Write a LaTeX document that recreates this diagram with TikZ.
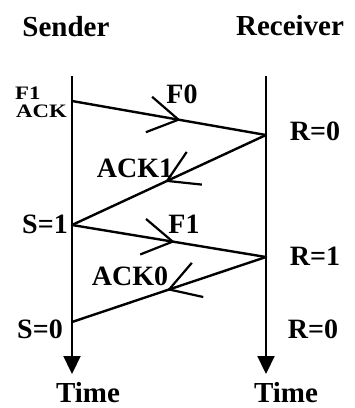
\documentclass[tikz,border=0pt]{standalone}
\usepackage{fontspec}
\setmainfont{Liberation Serif}
\usetikzlibrary{arrows.meta,decorations.markings}
\tikzset{
  big/.style={font=\fontsize{29}{31}\selectfont\bfseries, inner sep=0pt, anchor=base},
  lab/.style={font=\fontsize{28}{30}\selectfont\bfseries, inner sep=0pt, anchor=base},
  tiny/.style={font=\fontsize{19}{21}\selectfont\bfseries, inner sep=0pt, anchor=base west, xscale=1.2},
  timeline/.style={line width=2.2pt, -{Triangle[length=18pt,width=17pt]}},
  msg/.style={line width=2.4pt, line cap=round,
    postaction={decorate},
    decoration={markings, mark=at position #1 with {\arrow[line width=2.2pt]{Straight Barb[length=30pt,width=36pt]}}}},
  msg/.default=0.55
}
\begin{document}
\begin{tikzpicture}[x=1pt,y=-1pt]
\useasboundingbox (0,0) rectangle (355,408);
% timelines
\coordinate (stop) at (72,76);
\coordinate (send) at (72,374);
\coordinate (rtop) at (266,76);
\coordinate (rend) at (266,374);
\draw[timeline] (stop) -- (send);
\draw[timeline] (rtop) -- (rend);
% events
\coordinate (s0) at (72,101);
\coordinate (r0) at (266,135);
\coordinate (s1) at (72,225);
\coordinate (r1) at (266,257);
\coordinate (s2) at (72,322);
\draw[msg=0.56] (s0) -- (r0);
\draw[msg=0.52] (r0) -- (s1);
\draw[msg=0.53] (s1) -- (r1);
\draw[msg=0.51] (r1) -- (s2);
% labels
\node[big] (sender) at (66,36) {Sender};
\node[big] (receiver) at (290,35) {Receiver};
\node[big] (timel) at (88,402) {Time};
\node[big] (timer) at (286,402) {Time};
\node[tiny] (f1s) at (15,99) {F1};
\node[tiny] (acks) at (16,117) {ACK};
\node[lab] (f0) at (182,103) {F0};
\node[lab] (ack1) at (135,177) {ACK1};
\node[lab] (f1) at (184,233) {F1};
\node[lab] (ack0) at (130,285) {ACK0};
\node[lab] (sone) at (45,233) {S=1};
\node[lab] (szero) at (40,338) {S=0};
\node[lab] (rzero) at (315,140) {R=0};
\node[lab] (rone) at (315,265) {R=1};
\node[lab] (rzerob) at (313,338) {R=0};
\end{tikzpicture}
\end{document}
